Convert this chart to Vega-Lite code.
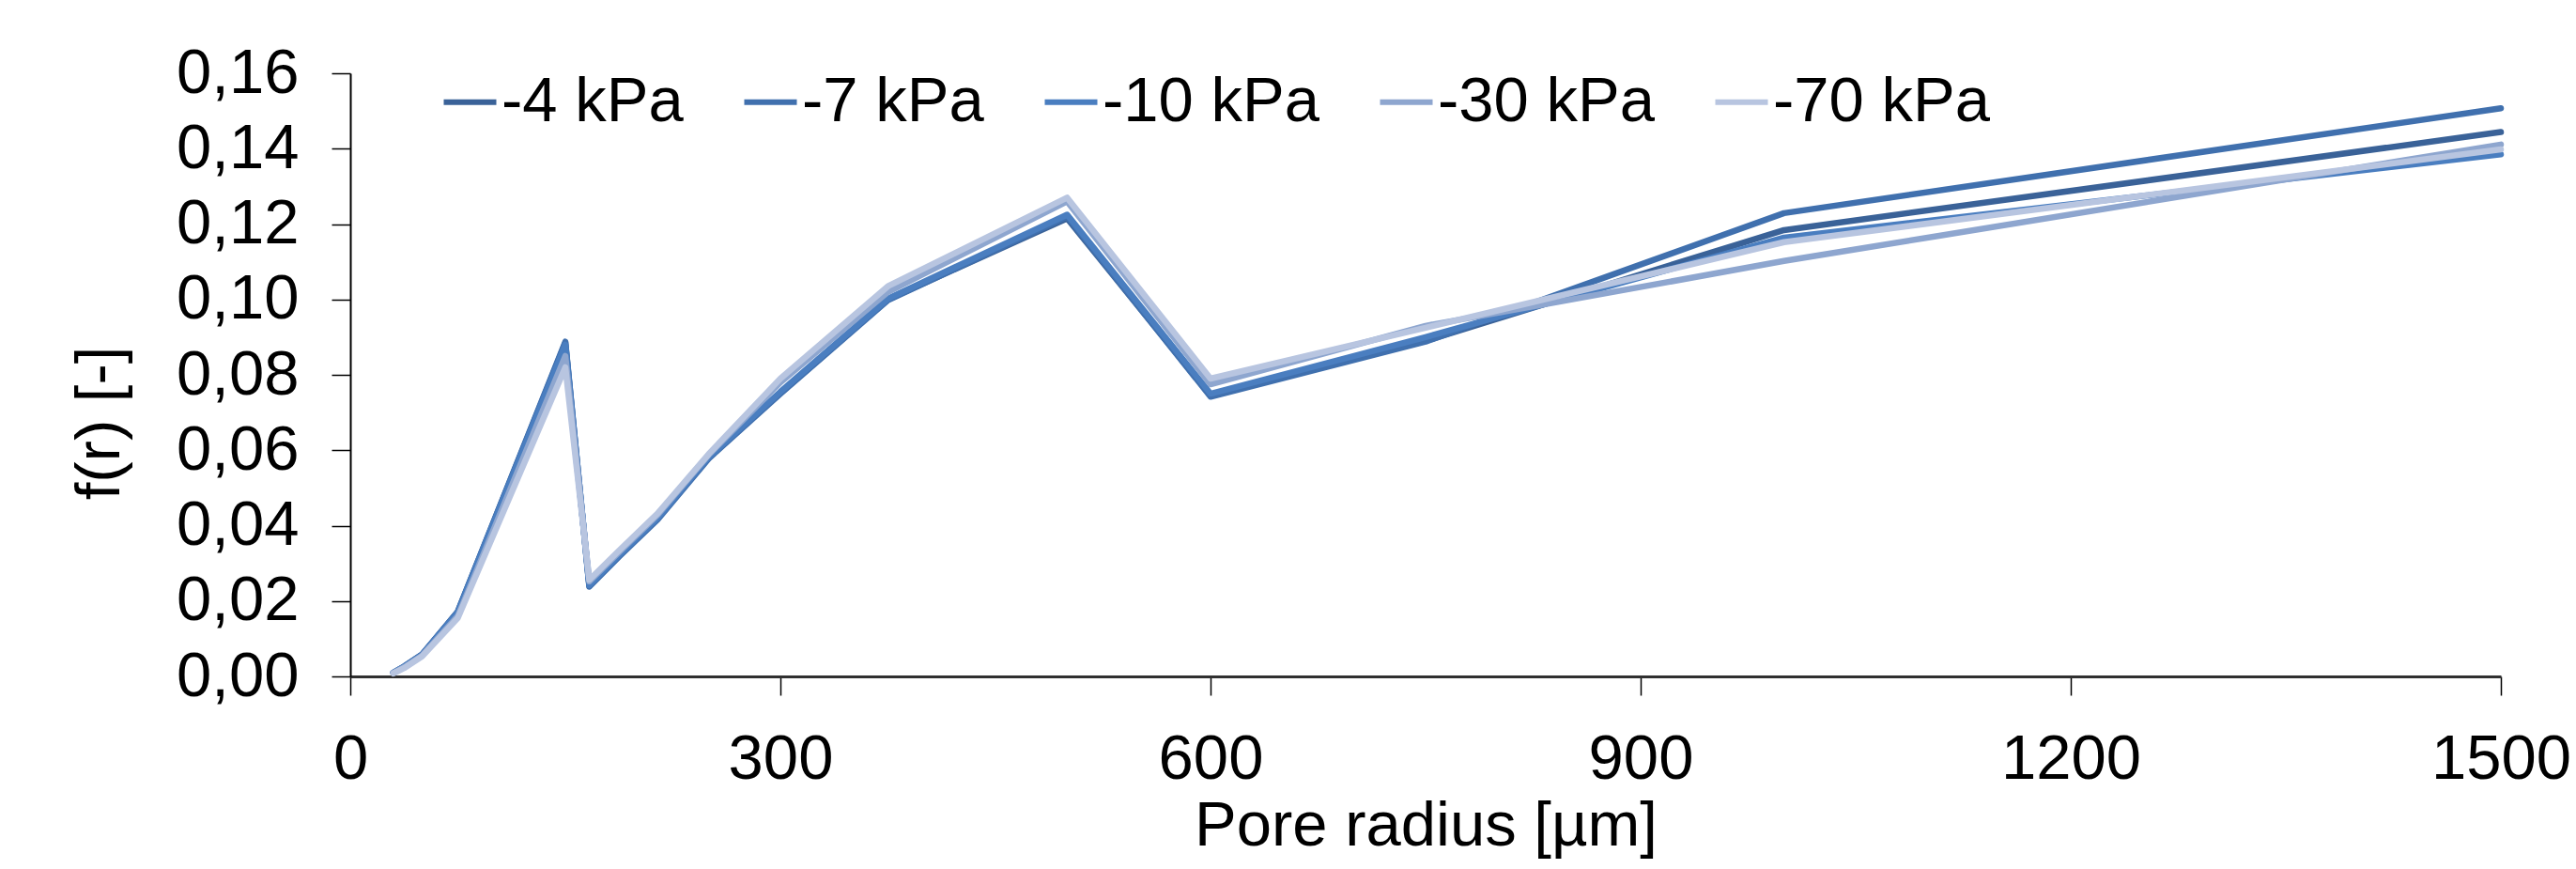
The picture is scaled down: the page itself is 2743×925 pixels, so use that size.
{
  "$schema": "https://vega.github.io/schema/vega-lite/v6.json",
  "width": 2290,
  "height": 642,
  "autosize": {"type": "none"},
  "padding": {"left": 373, "top": 78, "right": 80, "bottom": 205},
  "background": "white",
  "config": {
    "view": {"stroke": null},
    "font": "Liberation Sans",
    "axis": {"grid": false, "labelFont": "Liberation Sans", "titleFont": "Liberation Sans", "labelColor": "#000", "titleColor": "#000", "titleFontWeight": "normal", "labelFontSize": 67, "titleFontSize": 67, "tickColor": "#000", "tickWidth": 1.5, "tickSize": 20}
  },
  "data": {"values": [
    {"r": 30, "p": "-4 kPa", "f": 0.0010}, {"r": 37.5, "p": "-4 kPa", "f": 0.0026}, {"r": 50, "p": "-4 kPa", "f": 0.0058}, {"r": 75, "p": "-4 kPa", "f": 0.0172}, {"r": 150, "p": "-4 kPa", "f": 0.0885}, {"r": 166.7, "p": "-4 kPa", "f": 0.0240}, {"r": 187.5, "p": "-4 kPa", "f": 0.0320}, {"r": 214.3, "p": "-4 kPa", "f": 0.0418}, {"r": 250, "p": "-4 kPa", "f": 0.0580}, {"r": 300, "p": "-4 kPa", "f": 0.0752}, {"r": 375, "p": "-4 kPa", "f": 0.1000}, {"r": 500, "p": "-4 kPa", "f": 0.1215}, {"r": 600, "p": "-4 kPa", "f": 0.0745}, {"r": 750, "p": "-4 kPa", "f": 0.0890}, {"r": 1000, "p": "-4 kPa", "f": 0.1184}, {"r": 1500, "p": "-4 kPa", "f": 0.1444},
    {"r": 30, "p": "-7 kPa", "f": 0.0010}, {"r": 37.5, "p": "-7 kPa", "f": 0.0026}, {"r": 50, "p": "-7 kPa", "f": 0.0058}, {"r": 75, "p": "-7 kPa", "f": 0.0172}, {"r": 150, "p": "-7 kPa", "f": 0.0888}, {"r": 166.7, "p": "-7 kPa", "f": 0.0238}, {"r": 187.5, "p": "-7 kPa", "f": 0.0318}, {"r": 214.3, "p": "-7 kPa", "f": 0.0416}, {"r": 250, "p": "-7 kPa", "f": 0.0578}, {"r": 300, "p": "-7 kPa", "f": 0.0750}, {"r": 375, "p": "-7 kPa", "f": 0.0998}, {"r": 500, "p": "-7 kPa", "f": 0.1220}, {"r": 600, "p": "-7 kPa", "f": 0.0742}, {"r": 750, "p": "-7 kPa", "f": 0.0888}, {"r": 1000, "p": "-7 kPa", "f": 0.1229}, {"r": 1500, "p": "-7 kPa", "f": 0.1507},
    {"r": 30, "p": "-10 kPa", "f": 0.0010}, {"r": 37.5, "p": "-10 kPa", "f": 0.0026}, {"r": 50, "p": "-10 kPa", "f": 0.0057}, {"r": 75, "p": "-10 kPa", "f": 0.0170}, {"r": 150, "p": "-10 kPa", "f": 0.0880}, {"r": 166.7, "p": "-10 kPa", "f": 0.0242}, {"r": 187.5, "p": "-10 kPa", "f": 0.0322}, {"r": 214.3, "p": "-10 kPa", "f": 0.0420}, {"r": 250, "p": "-10 kPa", "f": 0.0582}, {"r": 300, "p": "-10 kPa", "f": 0.0755}, {"r": 375, "p": "-10 kPa", "f": 0.1002}, {"r": 500, "p": "-10 kPa", "f": 0.1225}, {"r": 600, "p": "-10 kPa", "f": 0.0750}, {"r": 750, "p": "-10 kPa", "f": 0.0900}, {"r": 1000, "p": "-10 kPa", "f": 0.1164}, {"r": 1500, "p": "-10 kPa", "f": 0.1385},
    {"r": 30, "p": "-30 kPa", "f": 0.0009}, {"r": 37.5, "p": "-30 kPa", "f": 0.0024}, {"r": 50, "p": "-30 kPa", "f": 0.0055}, {"r": 75, "p": "-30 kPa", "f": 0.0160}, {"r": 150, "p": "-30 kPa", "f": 0.0850}, {"r": 166.7, "p": "-30 kPa", "f": 0.0252}, {"r": 187.5, "p": "-30 kPa", "f": 0.0330}, {"r": 214.3, "p": "-30 kPa", "f": 0.0428}, {"r": 250, "p": "-30 kPa", "f": 0.0588}, {"r": 300, "p": "-30 kPa", "f": 0.0780}, {"r": 375, "p": "-30 kPa", "f": 0.1020}, {"r": 500, "p": "-30 kPa", "f": 0.1260}, {"r": 600, "p": "-30 kPa", "f": 0.0775}, {"r": 750, "p": "-30 kPa", "f": 0.0930}, {"r": 1000, "p": "-30 kPa", "f": 0.1102}, {"r": 1500, "p": "-30 kPa", "f": 0.1411},
    {"r": 30, "p": "-70 kPa", "f": 0.0008}, {"r": 37.5, "p": "-70 kPa", "f": 0.0022}, {"r": 50, "p": "-70 kPa", "f": 0.0053}, {"r": 75, "p": "-70 kPa", "f": 0.0155}, {"r": 150, "p": "-70 kPa", "f": 0.0820}, {"r": 166.7, "p": "-70 kPa", "f": 0.0256}, {"r": 187.5, "p": "-70 kPa", "f": 0.0334}, {"r": 214.3, "p": "-70 kPa", "f": 0.0432}, {"r": 250, "p": "-70 kPa", "f": 0.0590}, {"r": 300, "p": "-70 kPa", "f": 0.0790}, {"r": 375, "p": "-70 kPa", "f": 0.1035}, {"r": 500, "p": "-70 kPa", "f": 0.1270}, {"r": 600, "p": "-70 kPa", "f": 0.0790}, {"r": 750, "p": "-70 kPa", "f": 0.0925}, {"r": 1000, "p": "-70 kPa", "f": 0.1152}, {"r": 1500, "p": "-70 kPa", "f": 0.1398}
  ]},
  "mark": {"type": "line", "strokeWidth": 6.5, "strokeJoin": "round", "strokeCap": "round"},
  "encoding": {
    "x": {"field": "r", "type": "quantitative", "scale": {"domain": [0, 1500], "nice": false, "zero": true},
      "axis": {"values": [0, 300, 600, 900, 1200, 1500], "format": "d", "title": "Pore radius [µm]", "domainColor": "#303030", "domainWidth": 3, "labelPadding": 35, "titlePadding": 5, "labelFlush": false}},
    "y": {"field": "f", "type": "quantitative", "scale": {"domain": [0, 0.16], "nice": false},
      "axis": {"values": [0, 0.02, 0.04, 0.06, 0.08, 0.1, 0.12, 0.14, 0.16], "labelExpr": "replace(format(datum.value, '.2f'), '.', ',')", "title": "f(r) [-]", "domainColor": "#000", "domainWidth": 2, "labelPadding": 35, "titleY": 372, "titleX": -267, "titleBaseline": "middle", "titleAngle": 270, "labelFlush": false}},
    "color": {"field": "p", "type": "nominal", "sort": ["-4 kPa", "-7 kPa", "-10 kPa", "-30 kPa", "-70 kPa"],
      "scale": {"domain": ["-4 kPa", "-7 kPa", "-10 kPa", "-30 kPa", "-70 kPa"], "range": ["#3A6298", "#4070AE", "#4A7EC0", "#8EA6CF", "#B8C5E0"]},
      "legend": {"title": null, "orient": "none", "legendX": 94, "legendY": -3, "direction": "horizontal", "symbolType": "stroke", "symbolSize": 3136, "symbolStrokeWidth": 6, "labelFontSize": 67, "labelFont": "Liberation Sans", "labelColor": "#000", "labelOffset": 0, "columnPadding": 52, "padding": 0, "labelLimit": 500}}
  }
}
